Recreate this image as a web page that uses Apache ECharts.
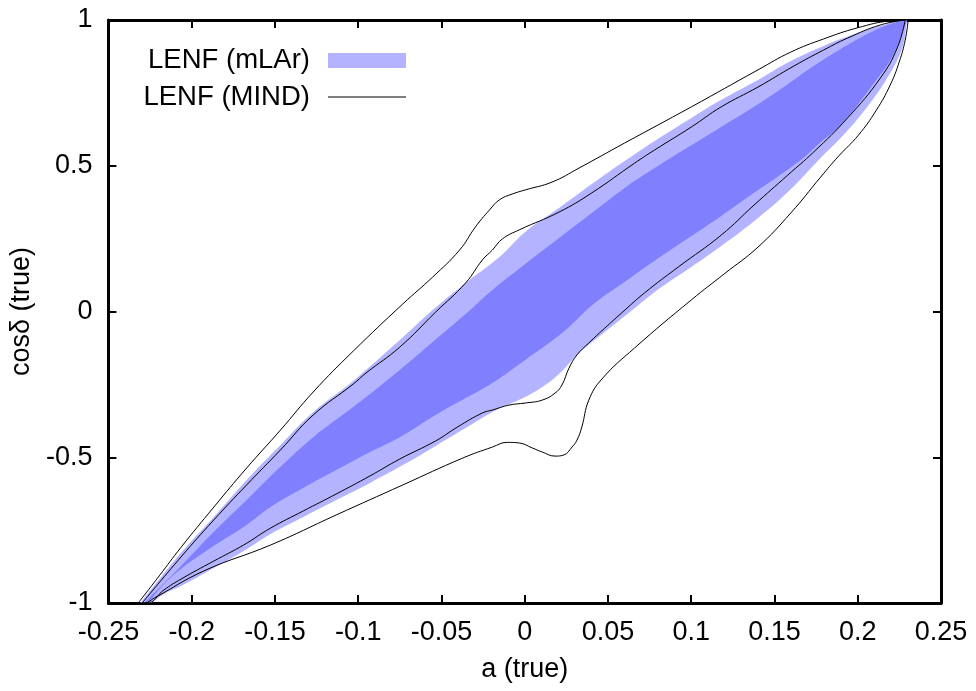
<!DOCTYPE html>
<html><head><meta charset="utf-8">
<script src="https://cdn.jsdelivr.net/npm/echarts@6/dist/echarts.min.js"></script>
<style>html,body{margin:0;padding:0;background:#fff}#c{width:976px;height:691px}</style>
</head><body><div id="c"></div>
<script>
// axis ranges / ticks
const xMin = -0.25, xMax = 0.25, xStep = 0.05;
const yMin = -1, yMax = 1, yStep = 0.5;
const xTitle = 'a (true)';
const yTitle = 'cosδ (true)';
const legendNames = ['LENF (mLAr)', 'LENF (MIND)'];

// mLAr outer (light) region, closed contour [a, cosδ]
const mlarOuter = [
 [-0.2309,-1.000],[-0.2309,-1.000],[-0.2064,-0.828],[-0.1867,-0.705],[-0.1670,-0.578],[-0.1467,-0.458],
 [-0.1270,-0.345],[-0.1030,-0.238],[-0.0750,-0.098],[-0.0553,0.005],[-0.0355,0.098],
 [-0.0152,0.187],[0.0003,0.273],[0.0206,0.355],[0.0403,0.437],[0.0600,0.516],
 [0.0780,0.585],[0.1001,0.664],[0.1180,0.726],[0.1401,0.794],[0.1598,0.859],
 [0.1795,0.911],[0.1998,0.955],[0.2195,0.990],[0.2297,1.000],[0.2297,1.000],
 [0.2267,0.904],[0.2177,0.801],[0.2034,0.685],[0.1897,0.595],[0.1777,0.527],
 [0.1580,0.410],[0.1377,0.310],[0.1180,0.225],[0.1001,0.153],[0.0821,0.084],
 [0.0624,-0.005],[0.0421,-0.098],[0.0326,-0.142],[0.0206,-0.214],[0.0105,-0.259],
 [0.0003,-0.293],[-0.0105,-0.321],[-0.0194,-0.345],[-0.0355,-0.400],[-0.0535,-0.461],
 [-0.0732,-0.527],[-0.0929,-0.588],[-0.1132,-0.647],[-0.1329,-0.705],[-0.1526,-0.763],
 [-0.1688,-0.822],[-0.1867,-0.880],[-0.2064,-0.942],[-0.2166,-0.969],[-0.2243,-1.000],[-0.2243,-1.000]
];
// mLAr inner (dark) region
const mlarInner = [
 [-0.2285,-1.000],[-0.2285,-1.000],[-0.2064,-0.873],[-0.1867,-0.756],[-0.1670,-0.647],[-0.1467,-0.533],
 [-0.1270,-0.431],[-0.1030,-0.328],[-0.0750,-0.201],[-0.0553,-0.105],[-0.0355,-0.009],
 [-0.0194,0.074],[0.0003,0.163],[0.0206,0.252],[0.0403,0.338],[0.0600,0.424],
 [0.0780,0.492],[0.0983,0.564],[0.1180,0.633],[0.1377,0.702],[0.1580,0.780],
 [0.1735,0.842],[0.1939,0.914],[0.2136,0.973],[0.2273,1.000],[0.2273,1.000],
 [0.2297,1.000],[0.2297,1.000],[0.2213,0.880],[0.2076,0.767],[0.1897,0.640],[0.1777,0.581],
 [0.1658,0.520],[0.1377,0.407],[0.1180,0.328],[0.0983,0.252],[0.0821,0.190],
 [0.0624,0.111],[0.0421,0.029],[0.0224,-0.074],[0.0003,-0.166],[-0.0194,-0.245],
 [-0.0355,-0.297],[-0.0535,-0.355],[-0.0750,-0.431],[-0.0929,-0.482],[-0.1132,-0.544],
 [-0.1329,-0.605],[-0.1526,-0.671],[-0.1670,-0.732],[-0.1867,-0.804],[-0.2064,-0.883],
 [-0.2166,-0.935],[-0.2261,-1.000],[-0.2261,-1.000]
];
// MIND outer contour
const mindOuter = [
 [-0.2321,-1.000],[-0.2195,-0.907],[-0.2064,-0.809],[-0.1867,-0.671],[-0.1670,-0.537],
 [-0.1467,-0.407],[-0.1270,-0.276],[-0.1030,-0.136],[-0.0732,0.026],[-0.0553,0.118],
 [-0.0391,0.211],[-0.0296,0.290],[-0.0212,0.348],[-0.0152,0.383],[-0.0075,0.403],
 [0.0003,0.417],[0.0164,0.444],[0.0326,0.492],[0.0600,0.578],[0.1001,0.702],
 [0.1401,0.829],[0.1598,0.890],[0.1795,0.935],[0.1998,0.973],[0.2195,0.997],
 [0.2303,1.000],[0.2303,1.000],
 [0.2285,0.931],[0.2249,0.856],[0.2195,0.777],[0.2112,0.691],[0.2004,0.605],
 [0.1885,0.533],[0.1777,0.461],
 [0.1598,0.338],[0.1401,0.221],[0.1198,0.129],[0.1001,0.040],
 [0.0660,-0.125],[0.0463,-0.232],[0.0385,-0.304],[0.0343,-0.396],[0.0314,-0.441],
 [0.0284,-0.465],[0.0236,-0.492],[0.0182,-0.496],[0.0105,-0.482],[0.0045,-0.468],
 [-0.0033,-0.451],[-0.0105,-0.449],[-0.0194,-0.465],[-0.0373,-0.503],[-0.0732,-0.595],
 [-0.1132,-0.698],[-0.1526,-0.801],[-0.1927,-0.890],[-0.2225,-0.983],[-0.2285,-1.000],
 [-0.2285,-1.000],[-0.2321,-1.000]
];
// MIND inner contour
const mindInner = [
 [-0.2297,-1.000],[-0.2064,-0.842],[-0.1867,-0.715],[-0.1670,-0.595],[-0.1467,-0.475],
 [-0.1270,-0.355],[-0.1030,-0.249],[-0.0953,-0.211],[-0.0750,-0.122],[-0.0535,-0.002],
 [-0.0355,0.098],[-0.0254,0.177],[-0.0194,0.211],[-0.0134,0.249],[-0.0033,0.280],
 [0.0206,0.341],[0.0403,0.407],[0.0660,0.509],[0.0780,0.554],[0.1001,0.633],
 [0.1180,0.702],[0.1401,0.770],[0.1616,0.842],[0.1795,0.897],[0.1939,0.938],
 [0.2136,0.983],[0.2285,1.000],[0.2285,1.000],
 [0.2237,0.904],[0.2136,0.801],[0.1939,0.664],[0.1735,0.547],[0.1580,0.468],
 [0.1377,0.365],[0.1180,0.262],[0.0923,0.153],[0.0720,0.064],[0.0582,-0.005],
 [0.0481,-0.057],[0.0385,-0.108],[0.0314,-0.149],[0.0266,-0.194],[0.0224,-0.252],
 [0.0182,-0.280],[0.0105,-0.304],[0.0003,-0.314],[-0.0093,-0.321],[-0.0194,-0.338],
 [-0.0254,-0.348],[-0.0403,-0.396],[-0.0535,-0.444],[-0.0750,-0.506],[-0.0929,-0.564],
 [-0.1132,-0.626],[-0.1329,-0.684],[-0.1526,-0.743],[-0.1688,-0.801],[-0.1867,-0.856],
 [-0.2064,-0.918],[-0.2166,-0.955],[-0.2267,-1.000],[-0.2267,-1.000],[-0.2297,-1.000]
];

const FONT = 'Liberation Sans, Arial, Helvetica, sans-serif';
const LIGHT = '#b3b3ff', DARK = '#8080ff';

function polygonSeries(name, pts, color, z) {
  return {
    type: 'custom', name: name, coordinateSystem: 'cartesian2d',
    data: pts, encode: { x: 0, y: 1 }, itemStyle: { color: color },
    z: z, silent: true, clip: true,
    renderItem: function (params, api) {
      if (params.dataIndex !== 0) return null;
      const points = pts.map(function (p) { return api.coord(p); });
      return { type: 'polygon', shape: { points: points, smooth: 0.4 }, style: { fill: color, stroke: null } };
    }
  };
}
function contourSeries(name, pts) {
  return {
    type: 'line', name: name, data: pts, symbol: 'none', showSymbol: false,
    smooth: 0.45, z: 5, silent: true, clip: true,
    lineStyle: { color: '#000', width: 1 }, itemStyle: { color: '#000' }
  };
}
const axisCommon = {
  axisLine: { show: true, onZero: false, lineStyle: { color: '#000', width: 3 } },
  axisTick: { show: true, inside: true, length: 8, lineStyle: { color: '#000', width: 2 } },
  splitLine: { show: false }, minorTick: { show: false }
};
const chart = echarts.init(document.getElementById('c'), null, { renderer: 'canvas' });
chart.setOption({
  animation: false,
  backgroundColor: '#fff',
  grid: { left: 104, right: 35, top: 20, bottom: 88, containLabel: false },
  xAxis: [
    Object.assign({ type: 'value', min: xMin, max: xMax, interval: xStep, position: 'bottom',
      name: xTitle, nameLocation: 'middle', nameGap: 53,
      nameTextStyle: { fontSize: 27, fontFamily: FONT, color: '#000' },
      axisLabel: { fontSize: 27, fontFamily: FONT, color: '#000', margin: 16,
        showMinLabel: true, showMaxLabel: true, hideOverlap: false,
        formatter: function (v) { return String(Math.round(v * 100) / 100); } } }, axisCommon),
    Object.assign({ type: 'value', min: xMin, max: xMax, interval: xStep, position: 'top',
      axisLabel: { show: false } }, axisCommon)
  ],
  yAxis: [
    Object.assign({ type: 'value', min: yMin, max: yMax, interval: yStep, position: 'left',
      name: yTitle, nameLocation: 'middle', nameGap: 62,
      nameTextStyle: { fontSize: 27, fontFamily: FONT, color: '#000' },
      axisLabel: { fontSize: 27, fontFamily: FONT, color: '#000', margin: 16,
        showMinLabel: true, showMaxLabel: true, hideOverlap: false,
        formatter: function (v) { return String(v); } } }, axisCommon),
    Object.assign({ type: 'value', min: yMin, max: yMax, interval: yStep, position: 'right',
      axisLabel: { show: false } }, axisCommon)
  ],
  legend: {
    orient: 'vertical', align: 'right', right: 570, top: 46.5, padding: 0,
    itemWidth: 78, itemHeight: 15, itemGap: 8.5, selectedMode: false,
    itemStyle: { borderWidth: 0 },
    textStyle: { fontSize: 27.5, fontFamily: FONT, color: '#000', lineHeight: 20, padding: [0, 13, 0, 0] },
    data: [
      { name: legendNames[0], icon: 'rect' },
      { name: legendNames[1], icon: 'path://M0,0H78V1H0Z', itemStyle: { color: '#000' } }
    ]
  },
  series: [
    polygonSeries(legendNames[0], mlarOuter, LIGHT, 1),
    polygonSeries('mLAr inner', mlarInner, DARK, 2),
    contourSeries(legendNames[1], mindOuter),
    contourSeries(legendNames[1], mindInner)
  ]
});
</script></body></html>
